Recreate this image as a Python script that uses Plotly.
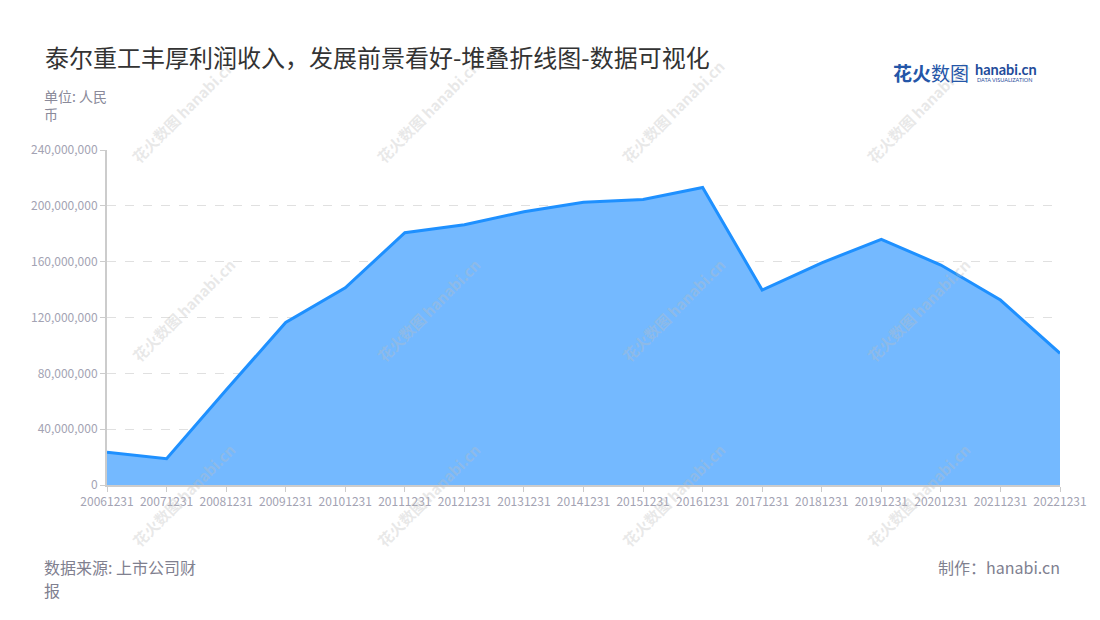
import plotly.graph_objects as go

# ---- data ----
dates = ['20061231', '20071231', '20081231', '20091231', '20101231', '20111231',
         '20121231', '20131231', '20141231', '20151231', '20161231', '20171231',
         '20181231', '20191231', '20201231', '20211231', '20221231']
profit = [23500000, 18900000, 68000000, 116500000, 141300000, 180700000,
          186500000, 195800000, 202500000, 204600000, 213200000, 139700000,
          159200000, 176000000, 157600000, 132500000, 94300000]
y_ticks = [0, 40000000, 80000000, 120000000, 160000000, 200000000, 240000000]

title_text = '泰尔重工丰厚利润收入，发展前景看好-堆叠折线图-数据可视化'
unit_lines = ['单位: 人民', '币']
source_lines = ['数据来源: 上市公司财', '报']
maker_text = '制作：hanabi.cn'

W, H = 1100, 620
OFF = 8  # page body margin
# target plot area in screen pixels: x 107..1060, y 150..485
L, T = 107 - OFF, 150 - OFF
R = W - (1060 - OFF)
B = H - (485 - OFF)
PW = W - L - R
PH = H - T - B
FONT = 'Noto Sans CJK SC, Noto Sans, sans-serif'


def px(xs):
    return (xs - OFF - L) / PW


def py(ys):
    return (H - B - (ys - OFF)) / PH


fig = go.Figure()
fig.add_trace(go.Scatter(
    x=dates, y=profit, mode='lines',
    line=dict(color='#1e90ff', width=3),
    fill='tozeroy', fillcolor='#74b9ff',
    hoverinfo='x+y', showlegend=False,
))

annotations = []
# watermarks (drawn first)
wm_cols = [183, 428, 673, 918]
wm_rows = [112, 310, 495]
for cy in wm_rows:
    for cx in wm_cols:
        annotations.append(dict(text='<b>花火数图</b> <b>hanabi.cn</b>', xref='paper', yref='paper',
                                x=px(cx), y=py(cy), xanchor='center', yanchor='middle',
                                textangle=-45, showarrow=False,
                                font=dict(size=15, color='rgba(190,190,190,0.35)', family=FONT)))
# title
annotations.append(dict(text=title_text, xref='paper', yref='paper',
                        x=px(43), y=py(56), xanchor='left', yanchor='middle',
                        showarrow=False, font=dict(size=24, color='#333333', family=FONT)))
# unit
for i, t in enumerate(unit_lines):
    annotations.append(dict(text=t, xref='paper', yref='paper',
                            x=px(43), y=py(96 + 18 * i), xanchor='left', yanchor='middle',
                            showarrow=False, borderpad=0,
                            font=dict(size=14, color='#8a8a9a', family=FONT)))
# source
for i, t in enumerate(source_lines):
    annotations.append(dict(text=t, xref='paper', yref='paper',
                            x=px(43), y=py(566.5 + 23 * i), xanchor='left', yanchor='middle',
                            showarrow=False, borderpad=0,
                            font=dict(size=16, color='#80808f', family=FONT)))
# maker
annotations.append(dict(text=maker_text, xref='paper', yref='paper',
                        x=px(1062), y=py(567), xanchor='right', yanchor='middle',
                        showarrow=False, font=dict(size=16, color='#80808f', family=FONT)))
# logo
annotations.append(dict(text='<b>花火</b>数图', xref='paper', yref='paper',
                        x=px(891), y=py(72), xanchor='left', yanchor='middle',
                        showarrow=False, font=dict(size=19, color='#2456a8', family=FONT)))
annotations.append(dict(text='<b>hanabi.cn</b>', xref='paper', yref='paper',
                        x=px(973), y=py(69), xanchor='left', yanchor='middle',
                        showarrow=False, font=dict(size=14.5, color='#1f4c9a', family='Lato, sans-serif')))
annotations.append(dict(text='DATA VISUALIZATION', xref='paper', yref='paper',
                        x=px(975), y=py(80), xanchor='left', yanchor='middle',
                        showarrow=False, font=dict(size=5.5, color='#1f4c9a', family='Lato, sans-serif')))

fig.update_layout(
    width=W, height=H, autosize=False,
    margin=dict(l=L, r=R, t=T, b=B),
    paper_bgcolor='white', plot_bgcolor='white',
    font=dict(family=FONT),
    annotations=annotations,
    xaxis=dict(type='category', range=[0, len(dates) - 1],
               showline=True, linecolor='#cccccc', linewidth=1.5,
               ticks='outside', ticklen=5, tickcolor='#cccccc',
               showgrid=False, zeroline=False, layer='below traces',
               tickfont=dict(size=12, color='#a3a3b3', family=FONT)),
    yaxis=dict(range=[0, 240000000], tickvals=y_ticks, tickformat=',d',
               showline=True, linecolor='#cccccc', linewidth=2,
               ticks='outside', ticklen=5, tickcolor='#cccccc',
               showgrid=True, gridcolor='#e0e0e0', griddash='dash', gridwidth=1,
               zeroline=False,
               tickfont=dict(size=12, color='#a3a3b3', family=FONT)),
)

fig.write_html('out.html')
